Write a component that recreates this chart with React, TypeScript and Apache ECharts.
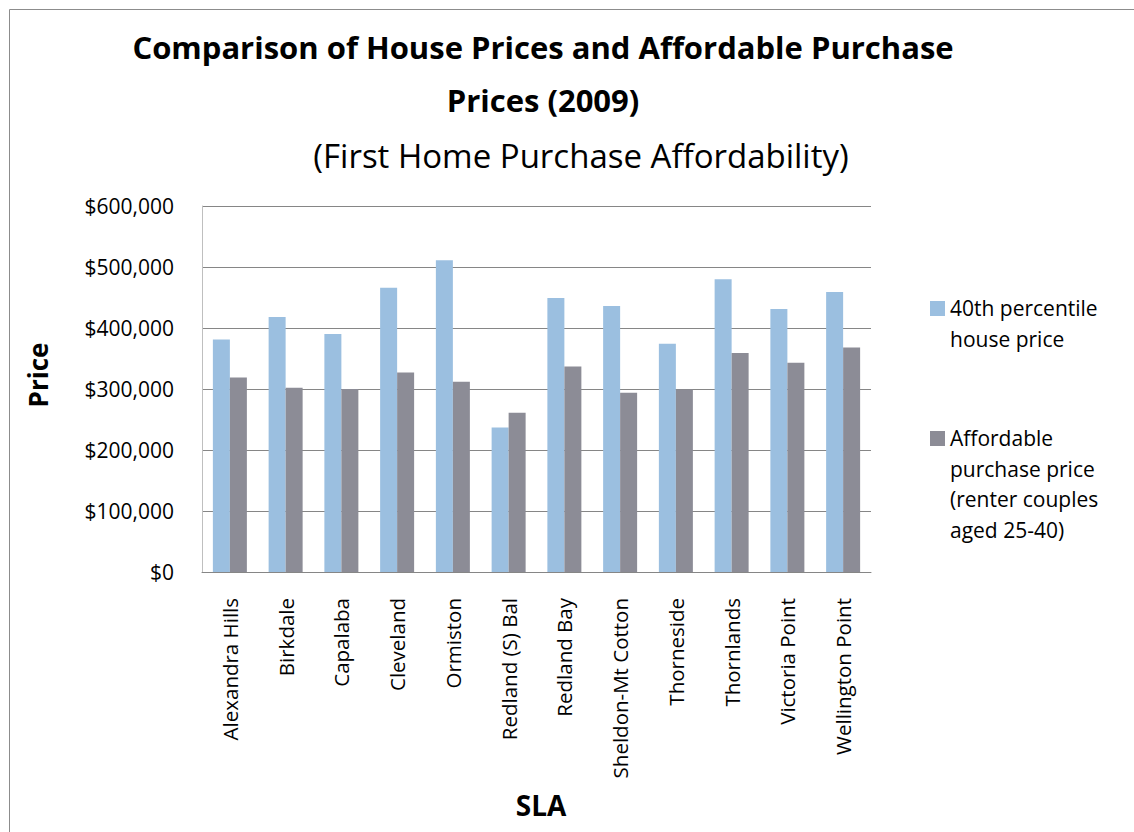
import React, { useEffect, useRef } from "react";
import * as echarts from "echarts";

const categories = [
  "Alexandra Hills",
  "Birkdale",
  "Capalaba",
  "Cleveland",
  "Ormiston",
  "Redland (S) Bal",
  "Redland Bay",
  "Sheldon-Mt Cotton",
  "Thorneside",
  "Thornlands",
  "Victoria Point",
  "Wellington Point",
];
const housePrice40th = [381000, 418000, 390000, 466000, 511000, 237000, 449000, 436000, 374000, 480000, 431000, 459000];
const affordablePrice = [319000, 302000, 300000, 327000, 312000, 261000, 337000, 294000, 299000, 359000, 343000, 368000];
const seriesNames = ["40th percentile\nhouse price", "Affordable\npurchase price\n(renter couples\naged 25-40)"];
const seriesColors = ["#9BBFE0", "#8C8C96"];
const yTicks = { min: 0, max: 600000, interval: 100000 };

const FONT = "'Open Sans', sans-serif";

function fmtMoney(v: number): string {
  return "$" + v.toLocaleString("en-US");
}

export default function App() {
  const ref = useRef<HTMLDivElement>(null);
  useEffect(() => {
    if (!ref.current) return;
    const chart = echarts.init(ref.current, null, { renderer: "svg" });
    const legendTops = [301, 431];
    const legendGraphics: any[] = [];
    seriesNames.forEach((n, i) => {
      legendGraphics.push({
        type: "rect",
        left: 930,
        top: legendTops[i],
        shape: { width: 15, height: 15 },
        style: { fill: seriesColors[i] },
      });
      legendGraphics.push({
        type: "text",
        left: 950,
        top: legendTops[i] - 8,
        style: {
          text: n,
          font: `21px ${FONT}`,
          fill: "#000",
          lineHeight: 30.5,
        },
      });
    });
    chart.setOption({
      animation: false,
      textStyle: { fontFamily: FONT },
      title: [
        {
          text: "Comparison of House Prices and Affordable Purchase\nPrices (2009)",
          left: 543,
          textAlign: "center",
          top: 20,
          padding: 0,
          textStyle: { fontSize: 31, fontWeight: "bold", color: "#000", lineHeight: 53, fontFamily: FONT },
        },
        {
          text: "(First Home Purchase Affordability)",
          left: 581,
          textAlign: "center",
          top: 135,
          padding: 0,
          textStyle: { fontSize: 33, fontWeight: "normal", color: "#000", lineHeight: 40, fontFamily: FONT },
        },
      ],
      graphic: [
        {
          type: "rect",
          left: 7,
          top: 7,
          shape: { width: 1140, height: 840 },
          style: { fill: "none", stroke: "#8C8C8C", lineWidth: 1 },
          silent: true,
        },
        {
          type: "text",
          x: 38,
          y: 375,
          rotation: Math.PI / 2,
          style: {
            text: "Price",
            font: `bold 26px ${FONT}`,
            fill: "#000",
            align: "center",
            verticalAlign: "middle",
          },
        },
        {
          type: "text",
          x: 541,
          y: 805,
          style: {
            text: "SLA",
            font: `bold 28px ${FONT}`,
            fill: "#000",
            align: "center",
            verticalAlign: "middle",
          },
        },
        ...legendGraphics,
      ],
      grid: { left: 202, right: 263, top: 206, bottom: 260, containLabel: false },
      xAxis: {
        type: "category",
        data: categories,
        axisLine: { show: true, lineStyle: { color: "#868686", width: 1 } },
        axisTick: { show: false },
        axisLabel: { rotate: 90, fontSize: 20.5, color: "#000", margin: 26, fontFamily: FONT, interval: 0 },
      },
      yAxis: {
        type: "value",
        min: yTicks.min,
        max: yTicks.max,
        interval: yTicks.interval,
        axisLine: { show: true, lineStyle: { color: "#BFBFBF", width: 1 } },
        axisTick: { show: false },
        splitLine: { show: true, lineStyle: { color: "#868686", width: 1 } },
        axisLabel: { fontSize: 21, color: "#000", margin: 28, fontFamily: FONT, formatter: (v: number) => fmtMoney(v) },
      },
      series: [
        {
          type: "bar",
          name: seriesNames[0],
          data: housePrice40th,
          itemStyle: { color: seriesColors[0] },
          barWidth: 17,
          barGap: "0%",
        },
        {
          type: "bar",
          name: seriesNames[1],
          data: affordablePrice,
          itemStyle: { color: seriesColors[1] },
          barWidth: 17,
          barGap: "0%",
        },
      ],
    });
    return () => chart.dispose();
  }, []);
  return (
    <div
      ref={ref}
      style={{ position: "absolute", left: 0, top: 0, width: 1134, height: 832, background: "#fff" }}
    />
  );
}
